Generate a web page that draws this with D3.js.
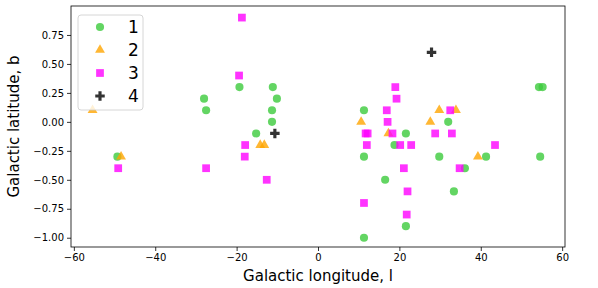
<!DOCTYPE html>
<meta charset="utf-8">
<script src="https://d3js.org/d3.v7.min.js"></script>
<style>
  body { margin: 0; background: #fff; }
  text { font-family: "DejaVu Sans", sans-serif; }
</style>
<body>
<div id="chart"></div>
</body>
<script>

// Data: [longitude l, latitude b] per group

var group1 = [
  [-49.3, -0.3], [-28.0, 0.2], [-27.5, 0.1], [-19.3, 0.3], [-15.2, -0.1],
  [-11.1, 0.3], [-10.1, 0.2], [-11.3, 0.1], [-11.3, 0.0],
  [11.3, 0.1], [11.3, -0.3], [11.3, -1.0], [16.5, -0.5], [18.8, -0.2],
  [21.6, -0.1], [21.6, -0.9], [29.8, -0.3], [32.0, 0.0], [33.4, -0.6],
  [36.1, -0.4], [41.3, -0.3], [54.3, 0.3], [55.2, 0.3], [54.6, -0.3]
];

var group2 = [
  [-55.4, 0.1], [-48.4, -0.3], [-14.2, -0.2], [-13.2, -0.2], [10.6, 0.0],
  [17.3, -0.1], [27.6, 0.0], [29.8, 0.1], [33.9, 0.1], [39.3, -0.3]
];

var group3 = [
  [-18.7, 0.9], [-19.4, 0.4], [-49.1, -0.4], [-27.5, -0.4], [-17.9, -0.2],
  [-18.0, -0.3], [-12.6, -0.5],
  [19.0, 0.3], [19.3, 0.2], [16.9, 0.1], [17.1, 0.0], [11.7, -0.1], [12.2, -0.1],
  [18.3, -0.1], [12.0, -0.2], [20.2, -0.2], [22.9, -0.2], [21.1, -0.4],
  [22.0, -0.6], [11.3, -0.7], [21.8, -0.8],
  [32.5, 0.1], [28.8, -0.1], [32.9, -0.1], [34.8, -0.4], [43.5, -0.2]
];

var group4 = [
  [27.9, 0.6], [-10.6, -0.1]
];

var groupNames = ["1", "2", "3", "4"];
var groupColors = ["#3ccb3c", "#ffa500", "#ff00ff", "#000000"];

var xTicks = [-60, -40, -20, 0, 20, 40, 60];
var yTicks = [-1.0, -0.75, -0.5, -0.25, 0.0, 0.25, 0.5, 0.75];

// Margins and svg

var margin = {top: 6, right: 33, bottom: 41, left: 71};
var width = 598 - margin.left - margin.right;
var height = 288 - margin.top - margin.bottom;

var svg = d3.select("#chart").append("svg")
    .attr("width", width + margin.left + margin.right)
    .attr("height", height + margin.top + margin.bottom)
    .append("g")
    .attr("transform", "translate(" + margin.left + "," + margin.top + ")");

var xScale = d3.scaleLinear()
    .domain([-60.7, 60.7])
    .range([0, width]);

var yScale = d3.scaleLinear()
    .domain([-1.08, 1.0])
    .range([height, 0]);

var xAxis = d3.axisBottom(xScale)
    .tickValues(xTicks)
    .tickSize(4)
    .tickPadding(3)
    .tickFormat(function(d) { return d3.format("d")(d).replace("-", "\u2212"); });

var yAxis = d3.axisLeft(yScale)
    .tickValues(yTicks)
    .tickSize(4)
    .tickPadding(3)
    .tickFormat(function(d) { return d3.format(".2f")(d).replace("-", "\u2212"); });

var xAxisGroup = svg.append("g")
    .attr("transform", "translate(0," + height + ")")
    .call(xAxis);

var yAxisGroup = svg.append("g")
    .call(yAxis);

[xAxisGroup, yAxisGroup].forEach(function(g) {
    g.select(".domain").remove();
    g.selectAll("text")
        .style("font-size", "10px")
        .attr("fill", "#000");
    g.selectAll("line").attr("stroke", "#000").attr("stroke-width", 0.8);
});

// frame
svg.append("rect")
    .attr("width", width)
    .attr("height", height)
    .attr("fill", "none")
    .attr("stroke", "#000")
    .attr("stroke-width", 0.8);

// axis titles
svg.append("text")
    .attr("x", width / 2)
    .attr("y", height + 34)
    .attr("text-anchor", "middle")
    .style("font-size", "15px")
    .text("Galactic longitude, l");

svg.append("text")
    .attr("transform", "translate(" + (-52) + "," + (height / 2) + ") rotate(-90)")
    .attr("text-anchor", "middle")
    .style("font-size", "15px")
    .text("Galactic latitude, b");

// markers
var sym = [d3.symbolCircle, d3.symbolTriangle, d3.symbolSquare, d3.symbolCross];
var sizes = [52, 42, 60, 50];

function drawGroup(data, i) {
    svg.append("g").selectAll("path")
        .data(data)
        .enter()
        .append("path")
        .attr("d", d3.symbol().type(sym[i]).size(sizes[i]))
        .attr("transform", function(d) {
            return "translate(" + xScale(d[0]) + "," + yScale(d[1]) + ")";
        })
        .attr("fill", groupColors[i])
        .attr("fill-opacity", 0.8);
}

[group1, group2, group3, group4].forEach(drawGroup);

// legend
var legend = svg.append("g")
    .attr("transform", "translate(7,9)");

legend.append("rect")
    .attr("width", 65)
    .attr("height", 95)
    .attr("rx", 3)
    .attr("fill", "#fff")
    .attr("fill-opacity", 0.8)
    .attr("stroke", "#ccc")
    .attr("stroke-width", 0.8);

groupNames.forEach(function(name, i) {
    var row = legend.append("g")
        .attr("transform", "translate(0," + (12 + i * 23) + ")");
    row.append("path")
        .attr("d", d3.symbol().type(sym[i]).size(sizes[i]))
        .attr("transform", "translate(22,0)")
        .attr("fill", groupColors[i])
        .attr("fill-opacity", 0.8);
    row.append("text")
        .attr("x", 50)
        .attr("y", 6)
        .style("font-size", "17px")
        .text(name);
});

</script>
